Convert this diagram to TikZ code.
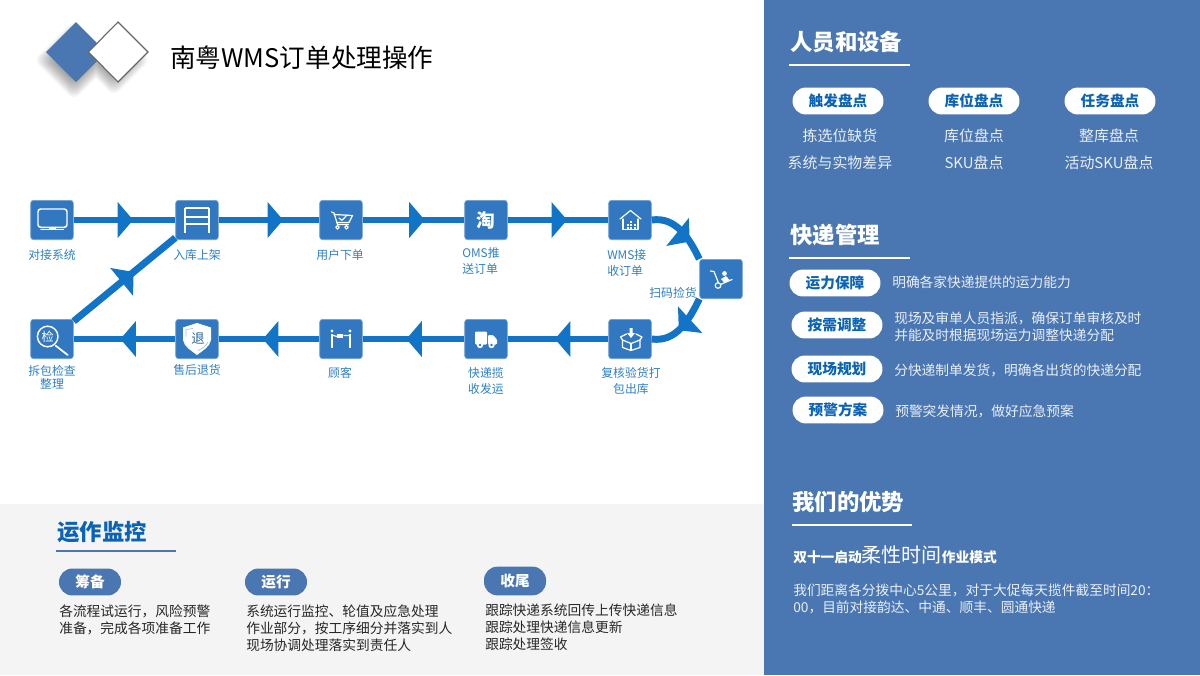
\documentclass[tikz,border=0pt]{standalone}
\usepackage{fontspec}
\setmainfont{Noto Sans CJK SC}
\usetikzlibrary{decorations.markings,calc}
\definecolor{panelc}{HTML}{4A76B2}
\definecolor{greyc}{HTML}{F4F4F4}
\definecolor{iconc}{HTML}{3278C0}
\definecolor{flowc}{HTML}{1274C6}
\definecolor{labelc}{HTML}{2F80C8}
\definecolor{deepc}{HTML}{0B63B5}
\definecolor{softw}{HTML}{E9EFF7}
\definecolor{inkc}{HTML}{262626}
\newcommand{\fs}[2]{\fontsize{#1}{#2}\selectfont}
\tikzset{
  x=0.75pt,y=0.75pt,
  iconbox/.style={rectangle,rounded corners=2.2pt,fill=iconc,draw=iconc!70!white,line width=.5pt,minimum width=32pt,minimum height=29.5pt,inner sep=0pt},
  flow/.style={draw=flowc,line width=5.2pt},
  flowmark/.style={postaction={decorate,decoration={markings,mark=at position #1 with {\fill[flowc] (-15.5,18) -- (0,0) -- (-15.5,-18) -- cycle;}}}},
  flowmarkr/.style 2 args={postaction={decorate,decoration={markings,mark=at position #1 with {\fill[flowc,rotate=#2] (-15.5,18) -- (0,0) -- (-15.5,-18) -- cycle;}}}},
  steplabel/.style={text=labelc,font=\fs{8.9}{12},align=center,inner sep=0pt},
  steplabell/.style={text=labelc,font=\fs{8.9}{12},align=left,inner sep=0pt},
  pill/.style={rectangle,rounded corners=10pt,fill=white,text=deepc,font=\fs{11}{13}\bfseries,minimum width=68.2pt,minimum height=20.2pt,inner sep=0pt},
  bluepill/.style={rectangle,rounded corners=10pt,fill=panelc,text=white,font=\fs{11}{13}\bfseries,minimum width=46.5pt,minimum height=20.2pt,inner sep=0pt},
  head/.style={text=white,font=\fs{16.8}{20}\bfseries,anchor=west,inner sep=0pt},
  rule/.style={line width=2.2pt,draw=white},
  bodyc/.style={text=softw,font=\fs{11.2}{13},inner sep=0pt},
  bodyl/.style={text=softw,font=\fs{10.3}{12.8},anchor=west,align=left,inner sep=0pt},
  bodyd/.style={text=inkc,font=\fs{10.3}{12.6},anchor=north west,align=left,inner sep=0pt},
  ico/.style={draw=white,line width=.9pt,line cap=round,line join=round,fill=none},
  icot/.style={draw=white,line width=1.25pt,line cap=butt,line join=miter,fill=none},
}
\begin{document}
\begin{tikzpicture}
\useasboundingbox (0,0) rectangle (1200,-675);
\fill[white] (0,0) rectangle (1200,-675);
\fill[greyc] (0,-504) rectangle (764,-675);
\fill[panelc] (764,0) rectangle (1200,-675);

% title mark
\foreach \r in {16,17.5,...,40}{
  \pgfmathsetmacro{\q}{\r-4}
  \fill[black,opacity=.03,rounded corners=5pt] (74-\r,-60) -- (74,-60+\r) -- (74+\r,-60) -- (74,-60-\r) -- cycle
     (114-\q,-60) -- (114,-60+\q) -- (114+\q,-60) -- (114,-60-\q) -- cycle;
}
\fill[panelc] (46,-52) -- (76,-22) -- (106,-52) -- (76,-82) -- cycle;
\fill[white,draw=black!60,line width=.8pt] (88.5,-52) -- (118,-22) -- (148,-52) -- (118,-82) -- cycle;
\node[anchor=west,inner sep=0pt,text=black,font=\fs{19.2}{22}] (title) at (170,-58) {南粤WMS订单处理操作};

% step nodes
\node[iconbox] (dock) at (52,-220) {};
\node[iconbox] (rack) at (197,-220) {};
\node[iconbox] (cart) at (341,-220) {};
\node[iconbox,text=white,font=\fs{14}{14}\bfseries] (oms) at (486,-220) {淘};
\node[iconbox] (wms) at (630,-220) {};
\node[iconbox] (scan) at (721,-279) {};
\node[iconbox] (pack) at (630,-339) {};
\node[iconbox] (ship) at (486,-339) {};
\node[iconbox] (cust) at (341,-339) {};
\node[iconbox] (ret) at (197,-339) {};
\node[iconbox] (insp) at (52,-339) {};

% connectors
\draw[flow,flowmark=.585] (dock) -- (rack);
\draw[flow,flowmark=.64] (rack) -- (cart);
\draw[flow,flowmark=.61] (cart) -- (oms);
\draw[flow,flowmark=.59] (oms) -- (wms);
\draw[flow,flowmarkr={.70}{18}] (wms.east) to[out=8,in=116] (scan.north west);
\draw[flow,flowmark=.56] (scan.south west) to[out=-116,in=-8] (pack.east);
\draw[flow,flowmark=.53] (pack) -- (ship);
\draw[flow,flowmark=.57] (ship) -- (cust);
\draw[flow,flowmark=.56] (cust) -- (ret);
\draw[flow,flowmark=.54] (ret) -- (insp);
\draw[flow,flowmark=.59] (insp) -- (rack);

% icons
\begin{scope}[shift={(dock.center)}]
  \draw[ico,line width=1.1pt,rounded corners=2pt] (-14,11) rectangle (15,-7.3);
  \draw[ico] (-11,-9.8) -- (11.5,-9.8);
  \draw[ico,line width=1.3pt,line cap=butt] (-3,-8.8) -- (4,-8.8);
\end{scope}
\begin{scope}[shift={(rack.center)}]
  \draw[icot] (-12,12.5) -- (-12,-12.5) (12,12.5) -- (12,-12.5);
  \draw[icot] (-12,11.7) -- (12,11.7) (-12,3) -- (12,3) (-12,-4.2) -- (12,-4.2);
\end{scope}
\begin{scope}[shift={(cart.center)}]
  \draw[ico] (-9.5,8) -- (-7,7) -- (-3.5,-4.5) -- (7.5,-4.5);
  \draw[ico] (-7,5.5) -- (11.5,4.5) -- (8,-2.5) -- (-4,-2.5);
  \draw[ico] (-2,2) -- (1,-.3) -- (6,5);
  \draw[ico] (-3.5,-7.3) circle (1.8) (5.5,-7.3) circle (1.8);
\end{scope}
\begin{scope}[shift={(wms.center)}]
  \draw[ico] (-10,1) -- (0.5,9.5) -- (11,1);
  \draw[ico] (-7,1) -- (-7,-9.5) -- (8,-9.5) -- (8,1);
  \foreach \a/\b in {0/-.5,-3.5/-3.5,0/-3.5,3.5/-3.5,-3.5/-6.5,0/-6.5,3.5/-6.5}{
    \fill[white] (\a,\b) rectangle +(2.3,-2.1);
  }
\end{scope}
\begin{scope}[shift={(scan.center)}]
  \draw[ico] (-10.5,8) -- (-7,7.5) -- (-2.5,-4);
  \draw[ico] (-.5,-5.5) -- (11,-.5);
  \draw[ico] (-3,-6.5) circle (2.8);
  \fill[white] (0,0) -- (5,3) -- (8.5,-1) -- (3,-3.5) -- cycle;
  \fill[white] (3.5,5.5) circle (2.4);
\end{scope}
\begin{scope}[shift={(pack.center)}]
  \draw[ico] (-7.5,-1) -- (-7.5,-8.5) -- (1,-11.5) -- (10,-8.5) -- (10,-1);
  \draw[ico] (-7.5,-1) -- (1,-4.5) -- (10,-1);
  \draw[ico] (1,-4.5) -- (1,-11.5);
  \draw[ico] (-7.5,-1) -- (-9.5,2) -- (-3.5,5);
  \draw[ico] (10,-1) -- (12,2) -- (6,5);
  \fill[white] (-.5,11) -- (2.5,11) -- (2.5,6) -- (5,6) -- (1,1) -- (-3,6) -- (-.5,6) -- cycle;
\end{scope}
\begin{scope}[shift={(ship.center)}]
  \fill[white,rounded corners=.8pt] (-11,7.5) rectangle (1,-5.5);
  \fill[white,rounded corners=.8pt] (2,4) -- (7,4) -- (11,-.5) -- (11,-5.5) -- (2,-5.5) -- cycle;
  \fill[white] (-6,-6) circle (3.2) (5.5,-6) circle (3.2);
  \fill[iconc] (-6,-6) circle (1.3) (5.5,-6) circle (1.3);
\end{scope}
\begin{scope}[shift={(cust.center)}]
  \fill[white] (-9,8) circle (1.7) (9,8) circle (1.7);
  \draw[ico,line width=1.5pt,line cap=butt] (-9,5.5) -- (-9,-9) (9,5.5) -- (9,-9);
  \draw[ico] (-9,4) -- (-4,2.5) (9,3.5) -- (3,3.5);
  \fill[white] (-4,5.5) rectangle (1.5,1.2);
\end{scope}
\begin{scope}[shift={(ret.center)}]
  \fill[white] (-14,11.5) -- (0,16) -- (14,11.5) -- (14,-1) .. controls (13,-8) and (5,-12) .. (0,-16) .. controls (-5,-12) and (-13,-8) .. (-14,-1) -- cycle;
  \draw[iconc!45!white,line width=.5pt] (-11,2.5) -- (-11,9.5) -- (-4,10.5);
  \draw[iconc!45!white,line width=.5pt] (11,-3) .. controls (9,-7) and (5,-10) .. (1,-11.5);
  \node[inner sep=0pt,text=iconc!85!black,font=\fs{10}{11}] (retchar) at (1,0) {退};
\end{scope}
\begin{scope}[shift={(insp.center)}]
  \draw[ico,line width=1.1pt] (-4.3,2.5) circle (10.3);
  \draw[ico,line width=1.3pt] (3.7,-6.7) -- (15.7,-16);
  \node[inner sep=0pt,text=white,font=\fs{9.2}{11}] (inspchar) at (-4.3,2.5) {检};
\end{scope}

% step labels
\node[steplabel] (l1) at (52,-255) {对接系统};
\node[steplabel] (l2) at (197,-255) {入库上架};
\node[steplabel] (l3) at (340,-255) {用户下单};
\node[steplabell,anchor=west] (l4) at (462,-261) {OMS推\\送订单};
\node[steplabell,anchor=west] (l5) at (607,-263) {WMS接\\收订单};
\node[steplabel,anchor=east] (l6) at (697,-293) {扫码捡货};
\node[steplabel] (l7) at (631,-381) {复核验货打\\包出库};
\node[steplabel] (l8) at (486,-381) {快递揽\\收发运};
\node[steplabel] (l9) at (340,-373) {顾客};
\node[steplabel] (l10) at (197,-370) {售后退货};
\node[steplabel,font=\fs{8.9}{10}] (l11) at (52,-377) {拆包检查\\整理};

% right panel: people and equipment
\node[head] (h1) at (790,-42) {人员和设备};
\draw[rule] (789,-65) -- (910,-65);
\node[pill] (p1) at (838,-101) {触发盘点};
\node[pill] (p2) at (974,-101) {库位盘点};
\node[pill] (p3) at (1110,-101) {任务盘点};
\node[bodyc] (a1) at (840,-136) {拣选位缺货};
\node[bodyc] (a2) at (840,-163) {系统与实物差异};
\node[bodyc] (a3) at (974,-136) {库位盘点};
\node[bodyc] (a4) at (974,-163) {SKU盘点};
\node[bodyc] (a5) at (1109,-136) {整库盘点};
\node[bodyc] (a6) at (1109,-163) {活动SKU盘点};

% express management
\node[head] (h2) at (790,-235) {快递管理};
\draw[rule] (789,-258) -- (910,-258);
\node[pill] (q1) at (835,-283) {运力保障};
\node[pill] (q2) at (837,-325) {按需调整};
\node[pill] (q3) at (837,-369) {现场规划};
\node[pill] (q4) at (838,-410) {预警方案};
\node[bodyl] (b1) at (892,-282) {明确各家快递提供的运力能力};
\node[bodyl] (b2) at (894,-326.5) {现场及审单人员指派，确保订单审核及时\\并能及时根据现场运力调整快递分配};
\node[bodyl] (b3) at (894,-370) {分快递制单发货，明确各出货的快递分配};
\node[bodyl] (b4) at (895,-411) {预警突发情况，做好应急预案};

% advantages
\node[head] (h3) at (792,-502) {我们的优势};
\draw[rule] (792,-525) -- (912,-525);
\node[anchor=west,inner sep=0pt,text=white,font=\fs{10.3}{15}\bfseries] (c1) at (793,-555) {双十一启动{\fs{15}{15}\mdseries 柔性时间}作业模式};
\node[bodyl] (c2) at (793,-598.5) {我们距离各分拨中心5公里，对于大促每天揽件截至时间20：\\00，目前对接韵达、中通、顺丰、圆通快递};

% operations monitoring
\node[anchor=west,inner sep=0pt,text=deepc,font=\fs{16.8}{20}\bfseries] (h4) at (57,-532) {运作监控};
\draw[rule,draw=panelc] (56,-551) -- (176,-551);
\node[bluepill] (r1) at (90,-582) {筹备};
\node[bluepill] (r2) at (276,-582) {运行};
\node[bluepill,minimum height=21.5pt] (r3) at (515,-581) {收尾};
\node[bodyd] (d1) at (59,-604.5) {各流程试运行，风险预警\\准备，完成各项准备工作};
\node[bodyd] (d2) at (246,-605) {系统运行监控、轮值及应急处理\\作业部分，按工序细分并落实到人\\现场协调处理落实到责任人};
\node[bodyd] (d3) at (485,-604) {跟踪快递系统回传上传快递信息\\跟踪处理快递信息更新\\跟踪处理签收};
\end{tikzpicture}
\end{document}
